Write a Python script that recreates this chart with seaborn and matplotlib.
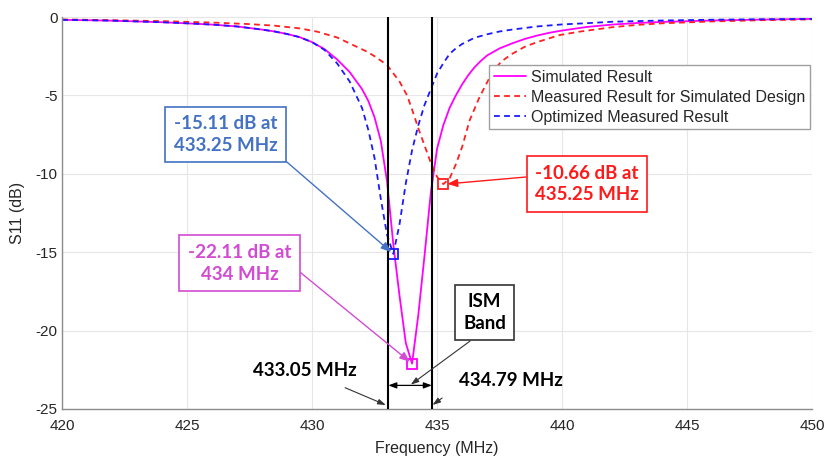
import numpy as np
import pandas as pd
import matplotlib
matplotlib.use("Agg")
import matplotlib.pyplot as plt
import seaborn as sns

# Simulated S11 response
sim_freq = [420, 421, 422, 423, 424, 425, 426, 427, 427.5, 428, 428.5, 429, 429.5, 430, 430.5,
            431, 431.5, 432, 432.25, 432.5, 432.75, 433, 433.25, 433.5, 433.75, 434, 434.25,
            434.5, 434.75, 435, 435.25, 435.5, 435.75, 436, 436.25, 436.5, 436.75, 437, 437.5,
            438, 438.5, 439, 439.5, 440, 441, 442, 443, 444, 446, 448, 450]
sim_s11 = [-0.18, -0.2, -0.23, -0.28, -0.33, -0.4, -0.48, -0.6, -0.7, -0.8, -0.92, -1.08, -1.28,
           -1.6, -2.05, -2.7, -3.5, -4.6, -5.35, -6.4, -7.9, -10.5, -14.5, -17.8, -20.8,
           -22.11, -19.0, -15.2, -11.2, -8.4, -6.9, -5.8, -5.0, -4.3, -3.7, -3.2, -2.8, -2.45,
           -2.0, -1.68, -1.4, -1.18, -1.0, -0.86, -0.63, -0.48, -0.38, -0.31, -0.22, -0.16,
           -0.12]

# Measured response of the simulated design
meas_freq = [420, 422, 424, 426, 427.5, 428.5, 429.5, 430.2, 431, 431.5, 432.2, 432.5, 433, 433.5,
             433.8, 434, 434.25, 434.5, 434.75, 435, 435.25, 435.5, 435.75, 436, 436.3, 436.7,
             437.25, 437.6, 438, 438.5, 439, 439.9, 440.7, 442, 443, 444, 446, 448, 450]
meas_s11 = [-0.15, -0.2, -0.26, -0.35, -0.45, -0.55, -0.72, -0.93, -1.3, -1.68, -2.21, -2.5, -3.06,
            -4.12, -5.0, -5.9, -7.1, -8.2, -9.3, -10.2, -10.66, -10.3, -9.4, -8.3, -6.6, -5.1,
            -3.4, -2.8, -2.35, -1.9, -1.6, -1.15, -0.93, -0.65, -0.5, -0.4, -0.28, -0.2, -0.15]

# Optimized measured response
opt_freq = [420, 421, 422, 423, 424, 425, 426, 427, 427.5, 428, 428.5, 429, 429.5, 430, 430.5,
            431, 431.5, 432, 432.25, 432.5, 432.75, 433, 433.25, 433.5, 433.75, 434, 434.25,
            434.5, 434.75, 435, 435.25, 435.5, 435.75, 436, 436.5, 437, 437.5, 438, 439,
            440, 441, 442, 444, 446, 448, 450]
opt_s11 = [-0.18, -0.2, -0.23, -0.28, -0.33, -0.4, -0.48, -0.6, -0.7, -0.8, -0.92, -1.08, -1.28,
           -1.6, -2.1, -2.95, -4.1, -5.8, -7.2, -9.0, -11.6, -13.9, -15.11, -13.2, -10.6, -8.5,
           -6.9, -5.6, -4.6, -3.6, -2.95, -2.35, -2.0, -1.72, -1.32, -1.1, -0.92, -0.8, -0.6,
           -0.47, -0.39, -0.3, -0.22, -0.17, -0.14, -0.12]

ism_low, ism_high = 433.05, 434.79

series_names = ["Simulated Result", "Measured Result for Simulated Design",
                "Optimized Measured Result"]
series_colors = ["#FF00FF", "#FF2020", "#1A1AFF"]
note_colors = ["#D24BD2", "#FF1A1A", "#4472C4"]

df = pd.concat([
    pd.DataFrame({"Frequency": sim_freq, "S11": sim_s11, "Series": series_names[0]}),
    pd.DataFrame({"Frequency": meas_freq, "S11": meas_s11, "Series": series_names[1]}),
    pd.DataFrame({"Frequency": opt_freq, "S11": opt_s11, "Series": series_names[2]}),
], ignore_index=True)

sns.set_theme(style="whitegrid")
plt.rcParams["font.family"] = ["Liberation Sans", "DejaVu Sans"]

fig = plt.figure(figsize=(8.27, 4.61), dpi=100)
ax = fig.add_axes([0.075, 0.113, 0.907, 0.850])

sns.lineplot(data=df, x="Frequency", y="S11", hue="Series", style="Series",
             hue_order=series_names, style_order=series_names,
             palette=dict(zip(series_names, series_colors)),
             dashes={series_names[0]: "", series_names[1]: (3.2, 2.4), series_names[2]: (3.2, 2.4)},
             sort=False, estimator=None, linewidth=1.3, ax=ax)

# mark the minimum of each curve
for xs, ys, c in [(sim_freq, sim_s11, series_colors[0]),
                  (meas_freq, meas_s11, series_colors[1]),
                  (opt_freq, opt_s11, series_colors[2])]:
    i = int(np.argmin(ys))
    ax.plot(xs[i], ys[i], marker="s", markersize=7, markerfacecolor="none",
            markeredgecolor=c, markeredgewidth=1.3, linestyle="none")

# ISM band edges
for f in (ism_low, ism_high):
    ax.axvline(f, color="black", linewidth=1.5, zorder=3)

ax.set_xlim(420, 450)
ax.set_ylim(-25, 0)
ax.set_xticks(np.arange(420, 451, 5))
ax.set_yticks(np.arange(-25, 1, 5))
ax.set_xticklabels([str(v) for v in range(420, 451, 5)])
ax.set_yticklabels([str(v) for v in range(-25, 1, 5)])
ax.tick_params(labelsize=11, colors="#262626", length=0)
ax.tick_params(axis="x", pad=7)
ax.tick_params(axis="y", pad=3)
ax.grid(True, color="#E6E6E6", linewidth=0.8)
ax.set_xlabel("Frequency (MHz)", fontsize=11.5, color="#262626", labelpad=6)
ax.set_ylabel("S11 (dB)", fontsize=11.5, color="#262626", labelpad=8)
for side in ("top", "right"):
    ax.spines[side].set_visible(False)
for side in ("left", "bottom"):
    ax.spines[side].set_color("#8C8C8C")
    ax.spines[side].set_linewidth(1.0)

leg = ax.legend(loc="upper right", bbox_to_anchor=(0.997, 0.877), fontsize=11.5,
                frameon=True, fancybox=False, edgecolor="#A0A0A0", framealpha=1,
                borderpad=0.3, labelspacing=0.3, handlelength=2.0, handletextpad=0.3,
                borderaxespad=0)
leg.get_frame().set_linewidth(1.0)
for t in leg.get_texts():
    t.set_color("#262626")

note_font = dict(family=["Lato", "DejaVu Sans"], fontweight="bold", fontsize=13.5,
                 ha="center", va="center", linespacing=1.35)

def callout(text, xy, xytext, color, box=True, arrow_start=None):
    bbox = dict(boxstyle="square,pad=0.45", facecolor="white", edgecolor=color,
                linewidth=1.2) if box else None
    ax.annotate(text, xy=xy, xytext=xytext, color=color, bbox=bbox,
                arrowprops=dict(arrowstyle="-|>,head_length=0.45,head_width=0.18",
                                color=color, linewidth=1.0, shrinkA=0, shrinkB=2,
                                relpos=arrow_start if arrow_start else (0.5, 0.5)),
                zorder=6, **note_font)

i_opt = int(np.argmin(opt_s11))
i_sim = int(np.argmin(sim_s11))
i_meas = int(np.argmin(meas_s11))

callout(f"{opt_s11[i_opt]:.2f} dB at\n{opt_freq[i_opt]:.2f} MHz",
        (opt_freq[i_opt], opt_s11[i_opt]), (426.55, -7.5), note_colors[2],
        arrow_start=(1.0, 0.0))
callout(f"{sim_s11[i_sim]:.2f} dB at\n{sim_freq[i_sim]:g} MHz",
        (sim_freq[i_sim], sim_s11[i_sim]), (427.1, -15.7), note_colors[0],
        arrow_start=(1.0, 0.45))
callout(f"{meas_s11[i_meas]:.2f} dB at\n{meas_freq[i_meas]:.2f} MHz",
        (meas_freq[i_meas] + 0.05, meas_s11[i_meas]), (441.0, -10.65), note_colors[1],
        arrow_start=(0.0, 0.7))

# ISM band callout and band-width arrow
ax.annotate("", xy=(ism_low, -23.5), xytext=(ism_high, -23.5),
            arrowprops=dict(arrowstyle="<|-|>,head_length=0.4,head_width=0.15",
                            color="black", linewidth=0.9, shrinkA=0, shrinkB=0), zorder=5)
ax.annotate("ISM\nBand", xy=(433.95, -23.45), xytext=(436.9, -18.85), color="black",
            bbox=dict(boxstyle="square,pad=0.45", facecolor="white", edgecolor="#333333",
                      linewidth=1.2),
            arrowprops=dict(arrowstyle="-|>,head_length=0.35,head_width=0.12",
                            color="#333333", linewidth=0.8, shrinkA=0, shrinkB=0,
                            relpos=(0.45, 0.0)),
            zorder=6, **note_font)

ax.annotate(f"{ism_low:.2f} MHz", xy=(ism_low - 0.1, -24.75), xytext=(429.7, -22.55),
            color="black",
            arrowprops=dict(arrowstyle="-|>,head_length=0.35,head_width=0.12",
                            color="#333333", linewidth=0.8, shrinkA=10, shrinkB=0),
            zorder=6, **note_font)
ax.annotate(f"{ism_high:.2f} MHz", xy=(ism_high + 0.03, -24.75), xytext=(437.95, -23.2),
            color="black",
            arrowprops=dict(arrowstyle="-|>,head_length=0.35,head_width=0.12",
                            color="#333333", linewidth=0.8, shrinkA=12, shrinkB=0,
                            relpos=(0.0, 0.2)),
            zorder=6, **note_font)

fig.savefig("out.png", dpi=100)
